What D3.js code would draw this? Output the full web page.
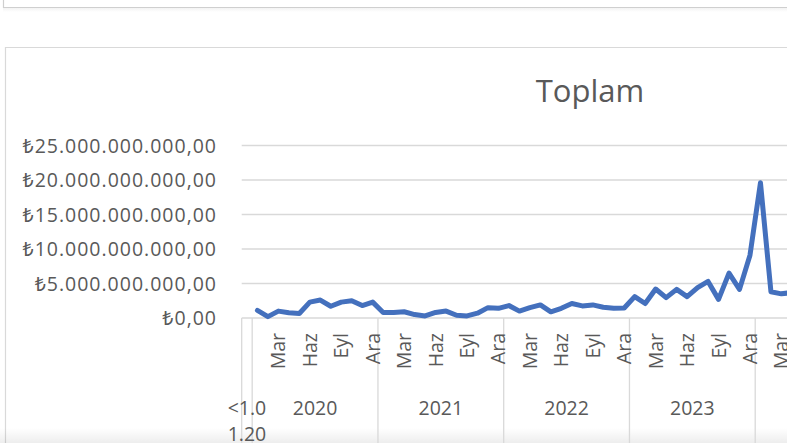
<!DOCTYPE html>
<html>
<head>
<meta charset="utf-8">
<script src="https://cdn.jsdelivr.net/npm/d3@7"></script>
<style>
  html, body { margin: 0; padding: 0; background: #ffffff; overflow: hidden; }
  svg { display: block; }
  text { font-family: "Open Sans", "Noto Sans", "DejaVu Sans", sans-serif; fill: #595959; }
</style>
</head>
<body>
<svg id="chart" width="787" height="443"></svg>
<script>
// ---------- data ----------
const title = "Toplam";
const years = ["2020", "2021", "2022", "2023", "2024"];
const monthNames = ["Oca", "Şub", "Mar", "Nis", "May", "Haz", "Tem", "Ağu", "Eyl", "Eki", "Kas", "Ara"];
const firstCategory = "<1.01.2020";
const firstCategoryLines = ["<1.0", "1.20"];
const values2020 = [1.1, 0.2, 1.0, 0.75, 0.65, 2.3, 2.6, 1.7, 2.3, 2.5, 1.8, 2.3];
const values2021 = [0.8, 0.8, 0.9, 0.5, 0.3, 0.8, 1.0, 0.4, 0.3, 0.7, 1.5, 1.4];
const values2022 = [1.8, 1.0, 1.5, 1.9, 0.9, 1.4, 2.1, 1.75, 1.9, 1.55, 1.4, 1.45];
const values2023 = [3.1, 2.1, 4.2, 2.95, 4.15, 3.1, 4.4, 5.3, 2.7, 6.5, 4.15, 9.1];
const values2024 = [19.6, 3.8, 3.5, 3.7];
const valueUnit = 1e9;
const yTicks = [0, 5e9, 10e9, 15e9, 20e9, 25e9];

// ---------- build categories ----------
const yearValues = [values2020, values2021, values2022, values2023, values2024];
const cats = [{ key: firstCategory, month: "", year: null, value: null }];
yearValues.forEach((arr, yi) => {
  arr.forEach((v, mi) => {
    cats.push({ key: years[yi] + "-" + mi, month: monthNames[mi], year: years[yi], value: v * valueUnit });
  });
});

// ---------- layout ----------
const svg = d3.select("#chart");
const plotLeft = 241.7, bandW = 10.48;
const yTop = 145.5, yBottom = 318;

const x = d3.scaleBand()
  .domain(cats.map(d => d.key))
  .range([plotLeft, plotLeft + bandW * cats.length])
  .paddingInner(0).paddingOuter(0);
const y = d3.scaleLinear().domain([0, 25e9]).range([yBottom, yTop]);

const tr = d3.formatLocale({ decimal: ",", thousands: ".", grouping: [3], currency: ["₺", ""] });
const fmt = tr.format("$,.2f");

// background frames (previous chart box and this chart box)
const defs = svg.append("defs");
const g1 = defs.append("linearGradient").attr("id", "shadow").attr("x1", 0).attr("x2", 0).attr("y1", 0).attr("y2", 1);
g1.append("stop").attr("offset", "0%").attr("stop-color", "#000").attr("stop-opacity", 0.06);
g1.append("stop").attr("offset", "100%").attr("stop-color", "#000").attr("stop-opacity", 0);
const g2 = defs.append("linearGradient").attr("id", "bottomfade").attr("x1", 0).attr("x2", 0).attr("y1", 0).attr("y2", 1);
g2.append("stop").attr("offset", "0%").attr("stop-color", "#000").attr("stop-opacity", 0);
g2.append("stop").attr("offset", "100%").attr("stop-color", "#000").attr("stop-opacity", 0.07);

svg.append("rect").attr("x", 3).attr("y", 7).attr("width", 784).attr("height", 5).attr("fill", "url(#shadow)");
svg.append("path").attr("d", "M3.5,0 V7.5 H787").attr("fill", "none").attr("stroke", "#cfcfcf").attr("stroke-width", 1.2);
svg.append("path").attr("d", "M5.5,443 V47.5 H787").attr("fill", "none").attr("stroke", "#d9d9d9").attr("stroke-width", 1.2);
svg.append("rect").attr("x", 0).attr("y", 428).attr("width", 787).attr("height", 15).attr("fill", "url(#bottomfade)");

// title
svg.append("text").attr("x", 590).attr("y", 102).attr("text-anchor", "middle")
  .style("font-size", "31px").text(title);

// gridlines
svg.append("g").selectAll("line").data(yTicks.filter(t => t > 0)).join("line")
  .attr("x1", plotLeft).attr("x2", 787)
  .attr("y1", d => y(d)).attr("y2", d => y(d))
  .attr("stroke", "#d9d9d9").attr("stroke-width", 1.3);

// y axis labels
svg.append("g").selectAll("text").data(yTicks).join("text")
  .attr("x", 217).attr("y", d => y(d)).attr("dy", "0.36em")
  .attr("text-anchor", "end").style("font-size", "19.5px").style("letter-spacing", "1px")
  .text(d => fmt(d));

// x axis baseline
svg.append("line").attr("x1", plotLeft).attr("x2", 787).attr("y1", yBottom).attr("y2", yBottom)
  .attr("stroke", "#d9d9d9").attr("stroke-width", 1.3);

// category dividers: first category edges and year starts
const dividers = [x(firstCategory)].concat(cats.filter(d => d.month === "Oca").map(d => x(d.key)));
svg.append("g").selectAll("line").data(dividers).join("line")
  .attr("x1", d => d).attr("x2", d => d).attr("y1", yBottom).attr("y2", 443)
  .attr("stroke", "#d9d9d9").attr("stroke-width", 1.3);

// month labels (every 3rd category)
svg.append("g").selectAll("text")
  .data(cats.filter((d, i) => i % 3 === 0 && d.month))
  .join("text")
  .attr("transform", d => `translate(${x(d.key) + bandW / 2},333) rotate(-90)`)
  .attr("text-anchor", "end").attr("dy", "0.36em")
  .style("font-size", "19.5px")
  .text(d => d.month);

// year labels
years.forEach(yr => {
  const ys = cats.filter(d => d.year === yr);
  const x0 = x(ys[0].key);
  const x1 = x(ys[ys.length - 1].key) + bandW;
  if (ys.length === 12) {
    svg.append("text").attr("x", (x0 + x1) / 2).attr("y", 415)
      .attr("text-anchor", "middle").style("font-size", "19.5px").text(yr);
  }
});
svg.append("g").selectAll("text").data(firstCategoryLines).join("text")
  .attr("x", x(firstCategory) + bandW / 2).attr("y", (d, i) => 415 + i * 26)
  .attr("text-anchor", "middle").style("font-size", "19.5px").text(d => d);

// series line
const lineData = cats.filter(d => d.value !== null);
svg.append("path").datum(lineData)
  .attr("fill", "none").attr("stroke", "#4470bd").attr("stroke-width", 5)
  .attr("stroke-linejoin", "round").attr("stroke-linecap", "round")
  .attr("d", d3.line().x(d => x(d.key) + bandW / 2).y(d => y(d.value)));
</script>
</body>
</html>
